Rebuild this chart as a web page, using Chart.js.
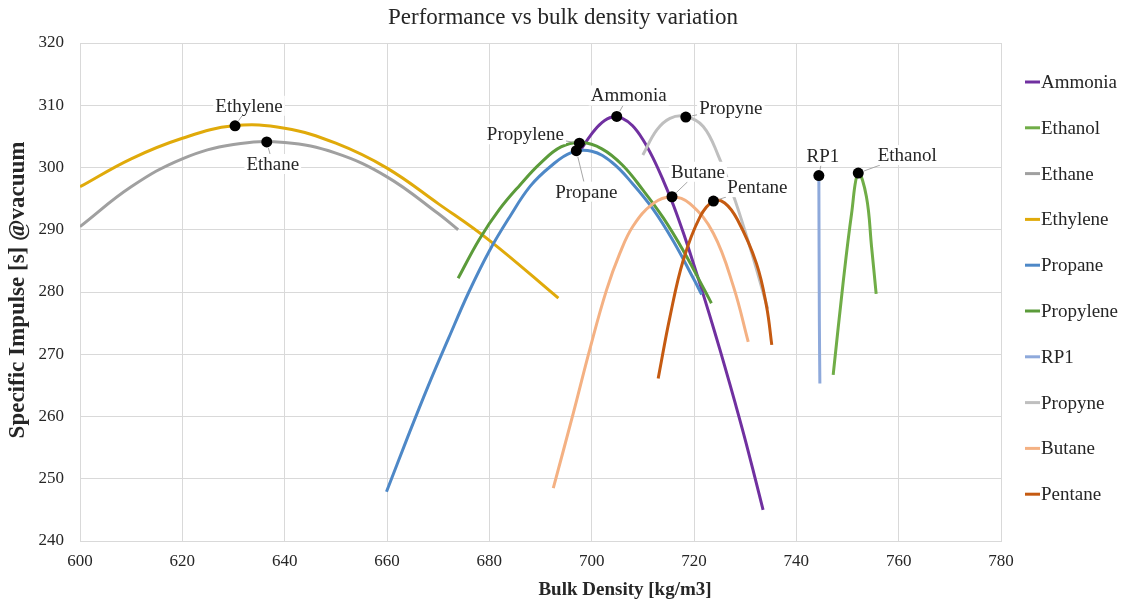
<!DOCTYPE html>
<html>
<head>
<meta charset="utf-8">
<script src="https://cdn.jsdelivr.net/npm/chart.js@4.4.1/dist/chart.umd.min.js"></script>
<style>
    html, body { margin: 0; padding: 0; background: #fff; }
    #wrap { width: 1122px; height: 602px; }
</style>
</head>
<body>
<div id="wrap"><canvas id="densityChart"></canvas></div>
<script>
// Fuels, legend order
const fuelNames = ['Ammonia', 'Ethanol', 'Ethane', 'Ethylene', 'Propane', 'Propylene', 'RP1', 'Propyne', 'Butane', 'Pentane'];
const fuelColors = ['#7030A0', '#70AD47', '#A0A0A0', '#E0AA0A', '#4E88C7', '#5B9B3A', '#8EA9DB', '#BFBFBF', '#F4B183', '#C55A11'];

// Bulk density [kg/m3] -> specific impulse [s]
const ammoniaX = [697.6, 700, 702, 704, 706, 708, 710, 712, 714, 716, 718, 720, 722, 724, 726, 728, 730, 732, 733.5];
const ammoniaY = [302.5, 305.4, 307.2, 308.1, 307.9, 306.7, 304.5, 301.5, 297.9, 293.9, 289.3, 284.3, 279.1, 273.7, 268.1, 262.3, 256.3, 249.9, 245.0];

const ethanolX = [747.2, 749.2, 750.8, 752.1, 753.7, 754.7, 755.6];
const ethanolY = [266.7, 281.9, 292.6, 299.1, 295.3, 287.3, 279.7];

const ethaneX = [600, 610, 620, 630, 640, 650, 660, 670, 673.9];
const ethaneY = [290.5, 296.9, 301.4, 303.7, 304.0, 302.3, 298.5, 292.6, 290.0];

const ethyleneX = [600, 610, 620, 630, 640, 650, 660, 670, 680, 693.5];
const ethyleneY = [296.9, 301.4, 304.7, 306.7, 306.3, 303.9, 299.9, 294.2, 288.3, 279.0];

const propaneX = [659.9, 664, 668, 672, 676, 680, 684, 688, 692, 696, 700, 704, 708, 712, 716, 720, 721.5];
const propaneY = [247.9, 256.6, 264.8, 272.5, 280.0, 286.6, 292.1, 297.0, 300.2, 302.4, 302.6, 300.8, 297.4, 293.3, 288.1, 282.0, 279.6];

const propyleneX = [673.9, 678, 682, 686, 690, 694, 698, 702, 706, 710, 714, 718, 722, 723.4];
const propyleneY = [282.2, 288.4, 293.3, 297.2, 300.7, 303.3, 304.0, 303.0, 300.4, 296.4, 291.9, 286.5, 280.4, 278.2];

const rp1X = [744.4, 744.5, 744.6];
const rp1Y = [298.7, 275.5, 265.3];

const propyneX = [710.0, 712.7, 715.3, 718.4, 721.8, 724.7, 728.0, 731.3, 734.4];
const propyneY = [302.0, 306.0, 307.9, 308.2, 306.6, 302.0, 294.8, 286.2, 277.3];

const butaneX = [692.5, 696.4, 699.7, 702.9, 705.5, 708.1, 712.0, 715.6, 719.2, 723.8, 727.7, 730.6];
const butaneY = [248.5, 260.5, 271.0, 280.3, 286.2, 290.6, 294.2, 295.3, 294.2, 289.4, 280.9, 272.0];

const pentaneX = [713.0, 715.3, 717.9, 721.2, 723.8, 726.0, 728.5, 732.2, 734.2, 735.2];
const pentaneY = [266.1, 276.0, 285.1, 292.1, 294.6, 294.3, 291.6, 284.6, 277.6, 271.5];

// labelled optimum points, legend order
const peakX = [704.9, 752.1, 636.5, 630.3, 697.0, 697.6, 744.4, 718.4, 715.7, 723.8];
const peakY = [308.2, 299.1, 304.1, 306.7, 302.7, 303.9, 298.7, 308.1, 295.3, 294.6];

const xTicks = [600, 620, 640, 660, 680, 700, 720, 740, 760, 780];
const yTicks = [240, 250, 260, 270, 280, 290, 300, 310, 320];

const chartTitle = 'Performance vs bulk density variation';
const xTitle = 'Bulk Density [kg/m3]';
const yTitle = 'Specific Impulse [s] @vacuum';

// label placement (pixels from the marker)
const labelOffsets = [[12, -21], [49, -18], [6, 22], [14, -20], [10, 41], [-54, -9], [4, -20], [45, -9], [26, -25], [44, -14]];

const seriesX = [ammoniaX, ethanolX, ethaneX, ethyleneX, propaneX, propyleneX, rp1X, propyneX, butaneX, pentaneX];
const seriesY = [ammoniaY, ethanolY, ethaneY, ethyleneY, propaneY, propyleneY, rp1Y, propyneY, butaneY, pentaneY];

const SERIF = "'Liberation Serif', 'Times New Roman', serif";
const TEXT = '#262626';

function toPoints(xs, ys) {
    return xs.map((x, i) => ({ x: x, y: ys[i] }));
}

const datasets = fuelNames.map((name, i) => ({
    label: name,
    data: toPoints(seriesX[i], seriesY[i]),
    showLine: true,
    borderColor: fuelColors[i],
    backgroundColor: fuelColors[i],
    borderWidth: 3,
    pointRadius: 0,
    tension: 0.4,
    order: 10 - i
}));

datasets.push({
    label: 'peaks',
    data: toPoints(peakX, peakY),
    showLine: false,
    pointRadius: 5.5,
    pointBackgroundColor: '#000',
    pointBorderWidth: 0,
    order: 0
});
const PEAKS = datasets.length - 1;

// data labels with white boxes and leader lines
const peakLabels = {
    id: 'peakLabels',
    afterDatasetsDraw(chart) {
        const ctx = chart.ctx;
        const pts = chart.getDatasetMeta(PEAKS).data;
        ctx.save();
        ctx.font = '19px ' + SERIF;
        ctx.textAlign = 'center';
        ctx.textBaseline = 'middle';
        pts.forEach((p, i) => {
            const text = fuelNames[i];
            const cx = p.x + labelOffsets[i][0];
            const cy = p.y + labelOffsets[i][1];
            const w = ctx.measureText(text).width + 4;
            const h = 20;

            // leader line, clipped to the box
            const dx = cx - p.x, dy = cy - p.y;
            const t = Math.min(Math.abs((w / 2) / (dx || 1e-6)), Math.abs((h / 2) / (dy || 1e-6)));
            const len = Math.hypot(dx, dy) * (1 - t);
            if (len > 6) {
                const ux = dx / Math.hypot(dx, dy), uy = dy / Math.hypot(dx, dy);
                ctx.strokeStyle = '#A6A6A6';
                ctx.lineWidth = 1;
                ctx.beginPath();
                ctx.moveTo(p.x + ux * 6, p.y + uy * 6);
                ctx.lineTo(cx - dx * t, cy - dy * t);
                ctx.stroke();
            }

            ctx.fillStyle = '#fff';
            ctx.fillRect(cx - w / 2, cy - h / 2, w, h);
            ctx.fillStyle = TEXT;
            ctx.fillText(text, cx, cy + 1);
        });
        ctx.restore();
    }
};

// legend on the right + chart / axis titles
const sideLegend = {
    id: 'sideLegend',
    afterDraw(chart) {
        const ctx = chart.ctx;
        const area = chart.chartArea;
        const x0 = area.right + 24;
        ctx.save();
        ctx.font = '19px ' + SERIF;
        ctx.textAlign = 'left';
        ctx.textBaseline = 'middle';
        fuelNames.forEach((name, i) => {
            const y = 82 + i * 45.8;
            ctx.strokeStyle = fuelColors[i];
            ctx.lineWidth = 3;
            ctx.beginPath();
            ctx.moveTo(x0, y);
            ctx.lineTo(x0 + 15, y);
            ctx.stroke();
            ctx.fillStyle = TEXT;
            ctx.fillText(name, x0 + 16, y + 1);
        });

        ctx.textAlign = 'center';
        ctx.font = '23px ' + SERIF;
        ctx.fillText(chartTitle, chart.width / 2 + 2, 18);

        ctx.font = 'bold 19px ' + SERIF;
        ctx.fillText(xTitle, 625, 590);

        ctx.translate(18, 290);
        ctx.rotate(-Math.PI / 2);
        ctx.font = 'bold 23px ' + SERIF;
        ctx.fillText(yTitle, 0, 0);
        ctx.restore();
    }
};

new Chart(document.getElementById('densityChart'), {
    type: 'scatter',
    data: { datasets: datasets },
    options: {
        responsive: true,
        maintainAspectRatio: false,
        animation: false,
        layout: { padding: { top: 43, right: 121, bottom: 0, left: 0 } },
        plugins: {
            legend: { display: false },
            tooltip: { enabled: false },
            title: { display: false }
        },
        scales: {
            x: {
                type: 'linear',
                min: xTicks[0],
                max: xTicks[xTicks.length - 1],
                afterBuildTicks: (scale) => { scale.ticks = xTicks.map(v => ({ value: v })); },
                afterFit: (scale) => { scale.height = 61; },
                grid: { color: '#D9D9D9', drawTicks: false },
                border: { color: '#D9D9D9' },
                ticks: { color: TEXT, font: { family: SERIF, size: 17 }, padding: 10 }
            },
            y: {
                type: 'linear',
                min: yTicks[0],
                max: yTicks[yTicks.length - 1],
                afterBuildTicks: (scale) => { scale.ticks = yTicks.map(v => ({ value: v })); },
                afterFit: (scale) => { scale.width = 80; },
                grid: { color: '#D9D9D9', drawTicks: false },
                border: { color: '#D9D9D9' },
                ticks: { color: TEXT, font: { family: SERIF, size: 17 }, padding: 16 }
            }
        }
    },
    plugins: [peakLabels, sideLegend]
});
</script>
</body>
</html>
